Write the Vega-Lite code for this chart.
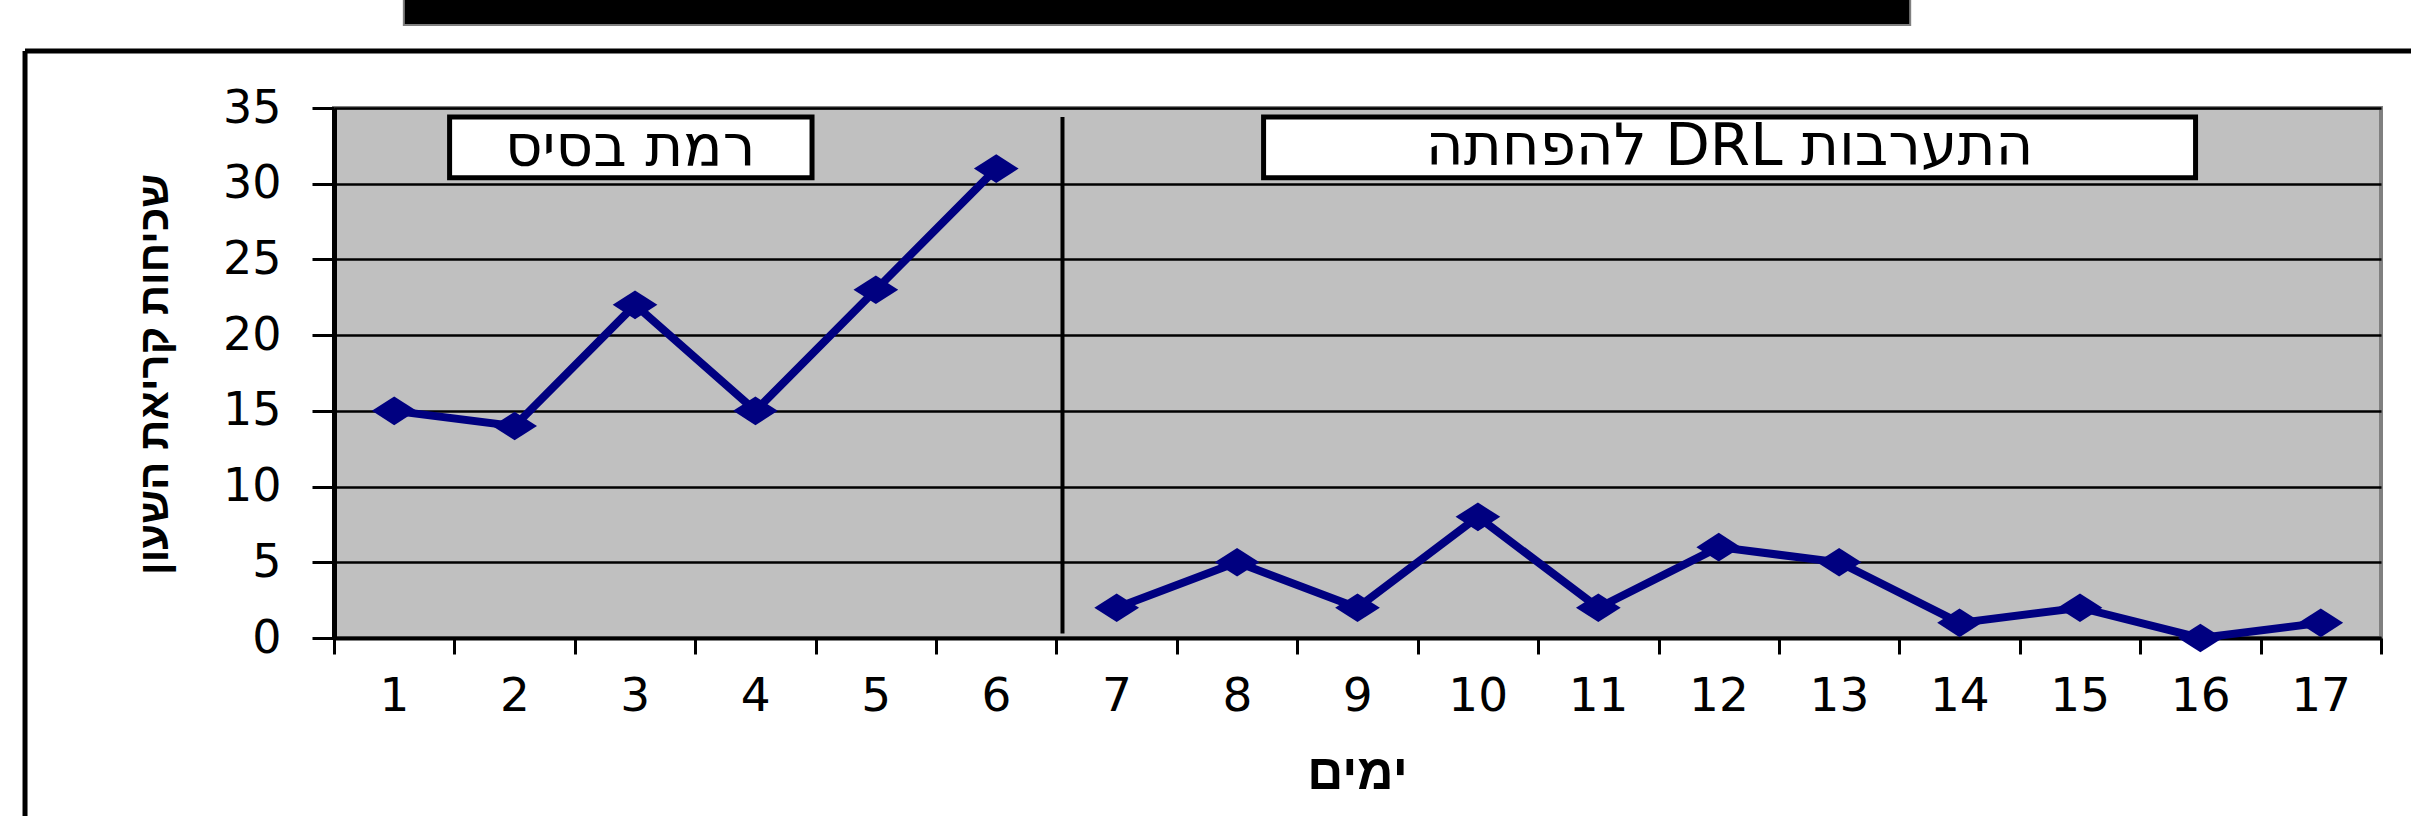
{
  "$schema": "https://vega.github.io/schema/vega-lite/v6.json",
  "autosize": {"type": "none"},
  "width": 2047,
  "height": 530,
  "padding": {"left": 334, "top": 108, "right": 30, "bottom": 178},
  "background": "white",
  "config": {
    "view": {"fill": "#C0C0C0", "stroke": "#808080", "strokeWidth": 4},
    "font": "DejaVu Sans"
  },
  "datasets": {
    "series": [
      {"day": 1, "count": 15, "phase": "baseline"},
      {"day": 2, "count": 14, "phase": "baseline"},
      {"day": 3, "count": 22, "phase": "baseline"},
      {"day": 4, "count": 15, "phase": "baseline"},
      {"day": 5, "count": 23, "phase": "baseline"},
      {"day": 6, "count": 31, "phase": "baseline"},
      {"day": 7, "count": 2, "phase": "intervention"},
      {"day": 8, "count": 5, "phase": "intervention"},
      {"day": 9, "count": 2, "phase": "intervention"},
      {"day": 10, "count": 8, "phase": "intervention"},
      {"day": 11, "count": 2, "phase": "intervention"},
      {"day": 12, "count": 6, "phase": "intervention"},
      {"day": 13, "count": 5, "phase": "intervention"},
      {"day": 14, "count": 1, "phase": "intervention"},
      {"day": 15, "count": 2, "phase": "intervention"},
      {"day": 16, "count": 0, "phase": "intervention"},
      {"day": 17, "count": 1, "phase": "intervention"}
    ],
    "labels": [
      {"label": "רמת בסיס", "x1": 1.46, "x2": 4.47, "y1": 30.4, "y2": 34.4, "xc": 2.96, "yc": 32.3},
      {"label": "\u202Bהתערבות DRL להפחתה\u202C", "x1": 8.22, "x2": 15.96, "y1": 30.4, "y2": 34.4, "xc": 12.09, "yc": 32.35}
    ],
    "phaseLine": [{"x": 6.55, "y1": 0.3, "y2": 34.4}],
    "frame": [
      {"x1": -2.066, "x2": -2.066, "y1": -12, "y2": 38.76},
      {"x1": -2.066, "x2": 17.8, "y1": 38.76, "y2": 38.76}
    ],
    "topBar": [{"x1": 1.08, "x2": 13.59, "y1": 40.48, "y2": 42.2}]
  },
  "layer": [
    {
      "data": {"name": "series"},
      "mark": {"type": "line", "color": "#000080", "strokeWidth": 8},
      "encoding": {
        "x": {
          "field": "day", "type": "quantitative",
          "scale": {"domain": [0.5, 17.5], "nice": false, "zero": false},
          "axis": {
            "values": [0.5, 1.5, 2.5, 3.5, 4.5, 5.5, 6.5, 7.5, 8.5, 9.5, 10.5, 11.5, 12.5, 13.5, 14.5, 15.5, 16.5, 17.5],
            "labelExpr": "datum.value < 17 ? format(datum.value + 0.5, 'd') : ''",
            "labelOffset": 60,
            "labelOverlap": false,
            "labelFlush": false,
            "labelBound": false,
            "labelFont": "DejaVu Sans",
            "labelFontSize": 47,
            "labelColor": "black",
            "labelBaseline": "middle",
            "labelPadding": 42,
            "tickSize": 16,
            "tickWidth": 3,
            "tickColor": "black",
            "domainColor": "black",
            "domainWidth": 4,
            "grid": false,
            "title": "ימים",
            "titleFont": "Liberation Sans",
            "titleFontSize": 50,
            "titleFontWeight": "bold",
            "titleColor": "black",
            "titleX": 1023,
            "titleY": 135,
            "titleBaseline": "middle"
          }
        },
        "y": {
          "field": "count", "type": "quantitative",
          "scale": {"domain": [0, 35], "nice": false},
          "axis": {
            "values": [0, 5, 10, 15, 20, 25, 30, 35],
            "labelFontSize": 46,
            "labelFont": "DejaVu Sans",
            "labelColor": "black",
            "labelPadding": 31,
            "tickSize": 22,
            "tickWidth": 3,
            "tickColor": "black",
            "domainColor": "black",
            "domainWidth": 5,
            "grid": true,
            "gridColor": "black",
            "gridWidth": 2.5,
            "gridOpacity": 1,
            "title": "שכיחות קריאת השעון",
            "titleFont": "Liberation Sans",
            "titleFontSize": 42,
            "titleFontWeight": "bold",
            "titleColor": "black",
            "titleX": -180,
            "titleY": 266,
            "titleAngle": 270,
            "titleAlign": "center",
            "titleBaseline": "middle"
          }
        },
        "detail": {"field": "phase"}
      }
    },
    {
      "data": {"name": "series"},
      "mark": {"type": "point", "shape": "M -1 0 L 0 -0.64 L 1 0 L 0 0.64 Z", "filled": true, "color": "#000080", "size": 2000, "opacity": 1},
      "encoding": {
        "x": {"field": "day", "type": "quantitative"},
        "y": {"field": "count", "type": "quantitative"}
      }
    },
    {
      "data": {"name": "phaseLine"},
      "mark": {"type": "rule", "color": "black", "strokeWidth": 4},
      "encoding": {
        "x": {"field": "x", "type": "quantitative"},
        "y": {"field": "y1", "type": "quantitative"},
        "y2": {"field": "y2"}
      }
    },
    {
      "data": {"name": "labels"},
      "mark": {"type": "rect", "fill": "white", "stroke": "black", "strokeWidth": 5},
      "encoding": {
        "x": {"field": "x1", "type": "quantitative"},
        "x2": {"field": "x2"},
        "y": {"field": "y1", "type": "quantitative"},
        "y2": {"field": "y2"}
      }
    },
    {
      "data": {"name": "labels"},
      "mark": {"type": "text", "fontSize": 58, "color": "black", "baseline": "middle", "align": "center", "font": "DejaVu Sans"},
      "encoding": {
        "x": {"field": "xc", "type": "quantitative"},
        "y": {"field": "yc", "type": "quantitative"},
        "text": {"field": "label"}
      }
    },
    {
      "data": {"name": "frame"},
      "mark": {"type": "rule", "color": "black", "strokeWidth": 5},
      "encoding": {
        "x": {"field": "x1", "type": "quantitative"},
        "x2": {"field": "x2"},
        "y": {"field": "y1", "type": "quantitative"},
        "y2": {"field": "y2"}
      }
    },
    {
      "data": {"name": "topBar"},
      "mark": {"type": "rect", "fill": "black", "stroke": "#808080", "strokeWidth": 2},
      "encoding": {
        "x": {"field": "x1", "type": "quantitative"},
        "x2": {"field": "x2"},
        "y": {"field": "y1", "type": "quantitative"},
        "y2": {"field": "y2"}
      }
    }
  ]
}
